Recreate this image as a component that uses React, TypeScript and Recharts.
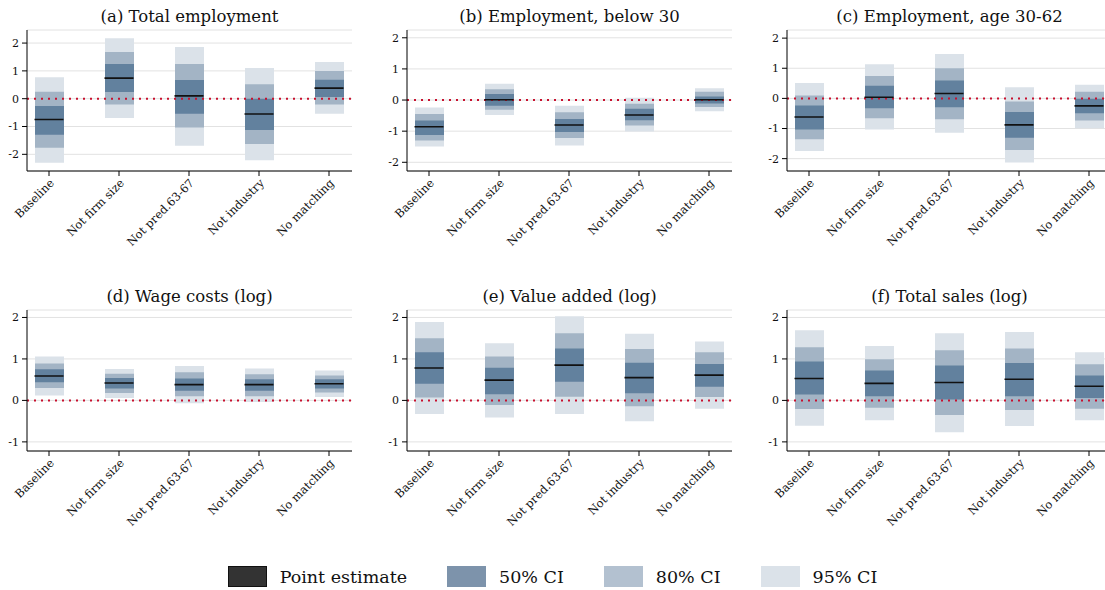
import React from "react";
import {
  ComposedChart,
  Bar,
  Line,
  XAxis,
  YAxis,
  CartesianGrid,
  ReferenceLine,
} from "recharts";

const categories = ["Baseline", "Not firm size", "Not pred.63-67", "Not industry", "No matching"];

// (a) Total employment
const totalEmpPoint = [-0.75, 0.74, 0.1, -0.55, 0.38];
const totalEmpCI50 = [[-1.3, -0.26], [0.24, 1.25], [-0.54, 0.67], [-1.13, 0.0], [0.06, 0.68]];
const totalEmpCI80 = [[-1.76, 0.25], [-0.21, 1.68], [-1.04, 1.25], [-1.63, 0.52], [-0.21, 1.0]];
const totalEmpCI95 = [[-2.3, 0.77], [-0.69, 2.17], [-1.69, 1.86], [-2.21, 1.1], [-0.54, 1.32]];

// (b) Employment, below 30
const youngPoint = [-0.86, 0.01, -0.8, -0.48, 0.01];
const youngCI50 = [[-1.12, -0.66], [-0.18, 0.19], [-1.03, -0.61], [-0.65, -0.28], [-0.11, 0.11]];
const youngCI80 = [[-1.3, -0.45], [-0.31, 0.35], [-1.22, -0.39], [-0.82, -0.12], [-0.22, 0.27]];
const youngCI95 = [[-1.49, -0.24], [-0.48, 0.52], [-1.46, -0.18], [-1.01, 0.07], [-0.36, 0.38]];

// (c) Employment, age 30-62
const primePoint = [-0.62, 0.04, 0.16, -0.88, -0.25];
const primeCI50 = [[-1.03, -0.24], [-0.33, 0.42], [-0.29, 0.59], [-1.31, -0.45], [-0.49, -0.01]];
const primeCI80 = [[-1.36, 0.1], [-0.66, 0.74], [-0.69, 1.0], [-1.71, -0.1], [-0.73, 0.22]];
const primeCI95 = [[-1.75, 0.51], [-1.03, 1.13], [-1.14, 1.47], [-2.13, 0.37], [-0.99, 0.45]];

// (d) Wage costs (log)
const wagePoint = [0.59, 0.42, 0.38, 0.38, 0.4];
const wageCI50 = [[0.44, 0.75], [0.29, 0.54], [0.23, 0.53], [0.23, 0.51], [0.29, 0.51]];
const wageCI80 = [[0.3, 0.89], [0.18, 0.64], [0.1, 0.68], [0.1, 0.63], [0.19, 0.6]];
const wageCI95 = [[0.12, 1.06], [0.06, 0.76], [-0.07, 0.83], [-0.04, 0.77], [0.08, 0.72]];

// (e) Value added (log)
const vaPoint = [0.78, 0.49, 0.85, 0.55, 0.61];
const vaCI50 = [[0.4, 1.16], [0.15, 0.79], [0.45, 1.25], [0.17, 0.91], [0.33, 0.88]];
const vaCI80 = [[0.07, 1.5], [-0.11, 1.06], [0.09, 1.62], [-0.14, 1.24], [0.08, 1.16]];
const vaCI95 = [[-0.33, 1.89], [-0.41, 1.38], [-0.33, 2.03], [-0.5, 1.61], [-0.2, 1.42]];

// (f) Total sales (log)
const salesPoint = [0.53, 0.41, 0.43, 0.51, 0.34];
const salesCI50 = [[0.14, 0.94], [0.1, 0.72], [0.02, 0.84], [0.1, 0.9], [0.06, 0.6]];
const salesCI80 = [[-0.21, 1.28], [-0.18, 0.99], [-0.35, 1.21], [-0.23, 1.25], [-0.2, 0.87]];
const salesCI95 = [[-0.61, 1.69], [-0.48, 1.31], [-0.77, 1.62], [-0.62, 1.65], [-0.48, 1.16]];

const ticksTop = [-2, -1, 0, 1, 2];
const ticksBottom = [-1, 0, 1, 2];

const FONT = "'DejaVu Serif', serif";
const C95 = "#dbe2e9";
const C80 = "#a3b4c5";
const C50 = "#62819e";

const makeRows = (point: number[], ci50: number[][], ci80: number[][], ci95: number[][]) =>
  categories.map((cat, i) => ({ cat, point: point[i], ci50: ci50[i], ci80: ci80[i], ci95: ci95[i] }));

const panels = [
  { title: "(a) Total employment", rows: makeRows(totalEmpPoint, totalEmpCI50, totalEmpCI80, totalEmpCI95), domain: [-2.6, 2.47], ticks: ticksTop, left: 0, top: 0 },
  { title: "(b) Employment, below 30", rows: makeRows(youngPoint, youngCI50, youngCI80, youngCI95), domain: [-2.28, 2.25], ticks: ticksTop, left: 380, top: 0 },
  { title: "(c) Employment, age 30-62", rows: makeRows(primePoint, primeCI50, primeCI80, primeCI95), domain: [-2.41, 2.27], ticks: ticksTop, left: 760, top: 0 },
  { title: "(d) Wage costs (log)", rows: makeRows(wagePoint, wageCI50, wageCI80, wageCI95), domain: [-1.22, 2.18], ticks: ticksBottom, left: 0, top: 280 },
  { title: "(e) Value added (log)", rows: makeRows(vaPoint, vaCI50, vaCI80, vaCI95), domain: [-1.22, 2.18], ticks: ticksBottom, left: 380, top: 280 },
  { title: "(f) Total sales (log)", rows: makeRows(salesPoint, salesCI50, salesCI80, salesCI95), domain: [-1.22, 2.18], ticks: ticksBottom, left: 760, top: 280 },
];

const BAR = 29;
const pad = { left: -13, right: -12 };

function PointMark(props: any) {
  const { cx, cy } = props;
  if (cx == null || cy == null) return null;
  return <line x1={cx - BAR / 2} x2={cx + BAR / 2} y1={cy} y2={cy} stroke="#111" strokeWidth={1.6} />;
}

function Panel({ p }: { p: (typeof panels)[number] }) {
  return (
    <div style={{ position: "absolute", left: p.left, top: p.top, width: 370, height: 280 }}>
      <div
        style={{
          position: "absolute",
          left: 27,
          width: 325,
          top: 7,
          textAlign: "center",
          fontFamily: FONT,
          fontSize: 16.5,
          lineHeight: "20px",
          color: "#111",
          whiteSpace: "nowrap",
        }}
      >
        {p.title}
      </div>
      <ComposedChart width={370} height={280} data={p.rows} margin={{ top: 30, right: 18, bottom: 0, left: 0 }}>
        <CartesianGrid horizontal vertical={false} stroke="#e2e2e2" />
        <XAxis
          xAxisId="main"
          dataKey="cat"
          interval={0}
          padding={pad}
          height={109}
          tickSize={5}
          angle={-45}
          textAnchor="end"
          axisLine={{ stroke: "#000" }}
          tickLine={{ stroke: "#000" }}
          tick={{ fill: "#111", fontSize: 11.5, fontFamily: FONT }}
        />
        <XAxis xAxisId="x80" dataKey="cat" hide padding={pad} />
        <XAxis xAxisId="x50" dataKey="cat" hide padding={pad} />
        <YAxis
          type="number"
          domain={p.domain}
          ticks={p.ticks}
          allowDataOverflow
          width={27}
          tickSize={5}
          tickMargin={3}
          axisLine={{ stroke: "#000" }}
          tickLine={{ stroke: "#000" }}
          tick={{ fill: "#111", fontSize: 11, fontFamily: FONT }}
        />
        <Bar xAxisId="main" dataKey="ci95" fill={C95} barSize={BAR} isAnimationActive={false} />
        <Bar xAxisId="x80" dataKey="ci80" fill={C80} barSize={BAR} isAnimationActive={false} />
        <Bar xAxisId="x50" dataKey="ci50" fill={C50} barSize={BAR} isAnimationActive={false} />
        <ReferenceLine xAxisId="main" y={0} stroke="#c8102e" strokeWidth={2} strokeDasharray="2 5" />
        <Line
          xAxisId="main"
          dataKey="point"
          stroke="none"
          dot={<PointMark />}
          activeDot={false}
          isAnimationActive={false}
        />
      </ComposedChart>
    </div>
  );
}

const legendItems = [
  { label: "Point estimate", fill: "#333333", border: "#111111" },
  { label: "50% CI", fill: "#7d93ab", border: "#7d93ab" },
  { label: "80% CI", fill: "#b3c1d0", border: "#b3c1d0" },
  { label: "95% CI", fill: "#dbe2e9", border: "#dbe2e9" },
];

export default function App() {
  return (
    <div
      style={{
        position: "absolute",
        left: 0,
        top: 0,
        width: 1105,
        height: 590,
        overflow: "hidden",
        background: "#fff",
      }}
    >
      {panels.map((p) => (
        <Panel key={p.title} p={p} />
      ))}
      <div
        style={{
          position: "absolute",
          left: 0,
          top: 566,
          width: 1105,
          display: "flex",
          justifyContent: "center",
          alignItems: "center",
          gap: 40,
          fontFamily: FONT,
          fontSize: 17.5,
          color: "#111",
        }}
      >
        {legendItems.map((it) => (
          <div key={it.label} style={{ display: "flex", alignItems: "center", gap: 13 }}>
            <div style={{ width: 37, height: 19, background: it.fill, border: `1px solid ${it.border}` }} />
            <span>{it.label}</span>
          </div>
        ))}
      </div>
    </div>
  );
}
